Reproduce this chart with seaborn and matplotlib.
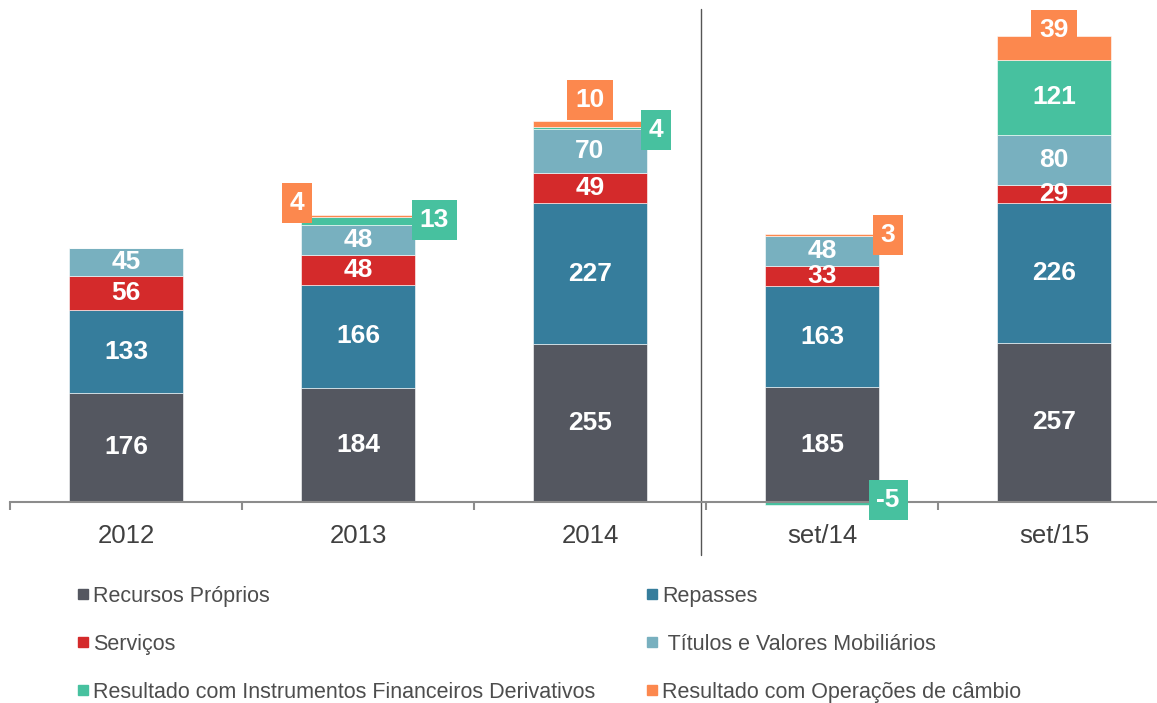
import matplotlib
matplotlib.use("Agg")
import matplotlib.pyplot as plt
from matplotlib.lines import Line2D
import seaborn as sns
import numpy as np
import pandas as pd

sns.set_style("white")
plt.rcParams['font.family'] = ['Liberation Sans', 'DejaVu Sans']

# data
categories = ["2012", "2013", "2014", "set/14", "set/15"]
series = ["Recursos Próprios", "Repasses", "Serviços",
          " Títulos e Valores Mobiliários",
          "Resultado com Instrumentos Financeiros Derivativos",
          "Resultado com Operações de câmbio"]
recursos_proprios = [176, 184, 255, 185, 257]
repasses = [133, 166, 227, 163, 226]
servicos = [56, 48, 49, 33, 29]
titulos = [45, 48, 70, 48, 80]
derivativos = [0, 13, 4, -5, 121]
cambio = [0, 4, 10, 3, 39]
values = [recursos_proprios, repasses, servicos, titulos, derivativos, cambio]

colors = ["#545760", "#367d9c", "#d42a2b", "#78b0bf", "#47c19f", "#fc884e"]

# callout labels for thin segments: (series idx, category idx) -> (x, y) in data units
callouts = {
    (5, 1): (0.737, 482),
    (4, 1): (1.33, 455),
    (5, 2): (2.0, 648),
    (4, 2): (2.285, 600),
    (5, 3): (3.285, 431),
    (4, 3): (3.285, 3),
    (5, 4): (4.0, 761),
}

W, H = 1157, 703
fig = plt.figure(figsize=(W / 100, H / 100), dpi=100)
px = 0.62  # pixels per unit
ax = fig.add_axes([10 / W, (H - 560) / H, 1160 / W, 560 / H])

pos_bottom = np.zeros(len(categories))
neg_bottom = np.zeros(len(categories))
for i, (name, vals) in enumerate(zip(series, values)):
    vals = np.array(vals, dtype=float)
    bottom = np.where(vals >= 0, pos_bottom, neg_bottom)
    df = pd.DataFrame({"cat": categories, "val": vals})
    sns.barplot(data=df, x="cat", y="val", order=categories, color=colors[i],
                saturation=1, errorbar=None, width=0.49, bottom=bottom,
                edgecolor="white", linewidth=0.4, ax=ax)
    for j, v in enumerate(vals):
        if v == 0:
            continue
        if (i, j) in callouts:
            x, y = callouts[(i, j)]
            ax.text(x, y, f"{v:.0f}", ha="center", va="center", color="white",
                    fontsize=19, fontweight="bold", zorder=5,
                    bbox=dict(boxstyle="square,pad=0.3", fc=colors[i], ec="none"))
        else:
            ax.text(j, bottom[j] + v / 2, f"{v:.0f}", ha="center", va="center",
                    color="white", fontsize=19, fontweight="bold", zorder=5)
    pos_bottom = np.where(vals >= 0, pos_bottom + vals, pos_bottom)
    neg_bottom = np.where(vals < 0, neg_bottom + vals, neg_bottom)

ax.set_xlim(-0.5, 4.5)
ax.set_ylim(-58 / px, 502 / px)
ax.set_xlabel("")
ax.set_ylabel("")
ax.set_yticks([])

for s in ["top", "right", "left"]:
    ax.spines[s].set_visible(False)
ax.spines["bottom"].set_position(("data", 0))
ax.spines["bottom"].set_color("#8c8c8c")
ax.spines["bottom"].set_linewidth(1.5)
ax.set_xticks(np.arange(-0.5, 4, 1), minor=True)
ax.tick_params(axis="x", which="minor", direction="out", length=6, width=1.5,
               color="#8c8c8c", bottom=True)
ax.tick_params(axis="x", which="major", length=0, pad=16, labelsize=18.5,
               labelcolor="#404040")

# separator between annual and September figures
ax.plot([2.48, 2.48], [(502 - 9) / px, (502 - 555) / px], color="#555555",
        lw=1, clip_on=False, zorder=1)

order = [0, 2, 4, 1, 3, 5]
handles = [Line2D([], [], marker="s", ls="none", color=colors[k], markersize=7.5)
           for k in order]
fig.legend(handles, [series[k] for k in order], ncol=2, frameon=False,
           loc="upper left", bbox_to_anchor=(77 / W, 1 - 586 / H),
           fontsize=15.5, labelcolor="#4d4d4d", handlelength=0.6,
           handletextpad=0.15, columnspacing=2.35, labelspacing=1.25,
           borderpad=0, borderaxespad=0)

fig.savefig("out.png", dpi=100)
